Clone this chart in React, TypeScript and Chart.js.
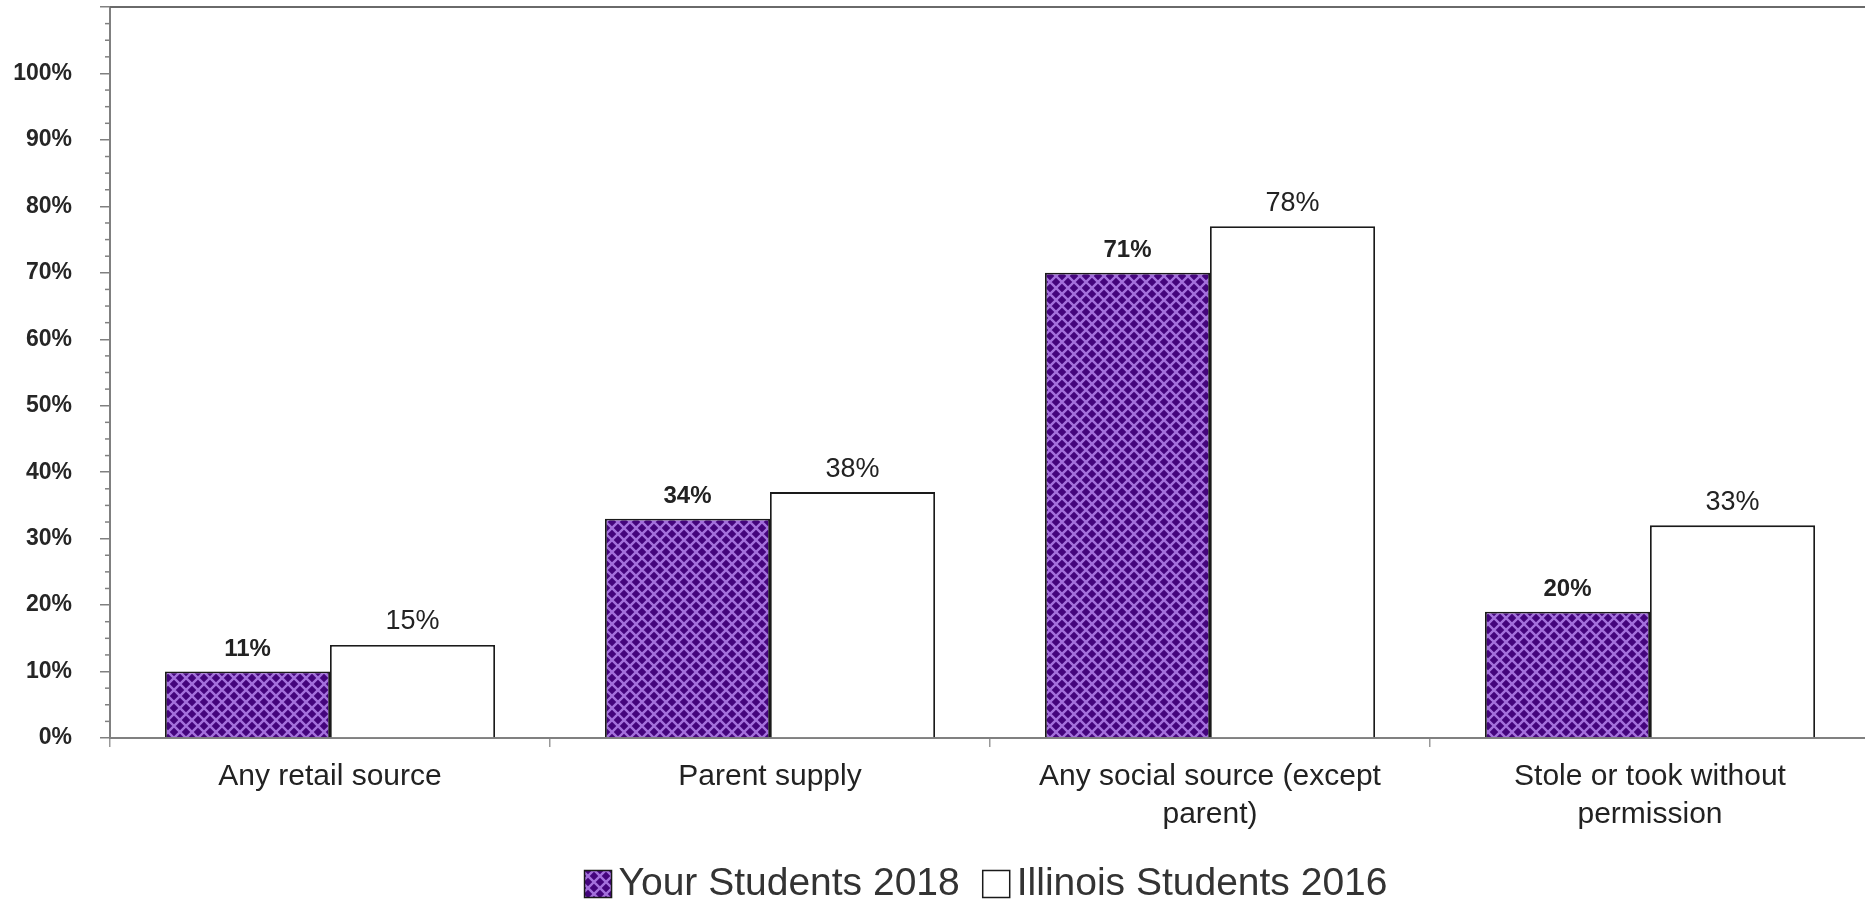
import React, { useEffect, useRef } from "react";
import { Chart, registerables } from "chart.js";

Chart.register(...registerables);

const FONT = "'Liberation Sans', Arial, Helvetica, sans-serif";

const categories: (string | string[])[] = [
  "Any retail source",
  "Parent supply",
  ["Any social source (except", "parent)"],
  ["Stole or took without", "permission"],
];
const seriesNames = ["Your Students 2018", "Illinois Students 2016"];
const yourStudents2018 = [10, 33, 70, 19];
const illinoisStudents2016 = [14, 37, 77, 32];
const yourLabels = ["11%", "34%", "71%", "20%"];
const illinoisLabels = ["15%", "38%", "78%", "33%"];
const yMin = 0;
const yMax = 110;
const yStep = 10;
const yLabelMax = 100;
const yMinorStep = 2.5;

function makePattern(): CanvasPattern | string {
  const s = 12;
  const c = document.createElement("canvas");
  c.width = s;
  c.height = s;
  const g = c.getContext("2d");
  if (!g) return "#4a0a86";
  g.fillStyle = "#44047c";
  g.fillRect(0, 0, s, s);
  g.strokeStyle = "#a470dc";
  g.lineWidth = 2.4;
  for (const dx of [-s, 0, s]) {
    g.beginPath();
    g.moveTo(dx, 0);
    g.lineTo(dx + s, s);
    g.moveTo(dx + s, 0);
    g.lineTo(dx, s);
    g.stroke();
  }
  const p = g.createPattern(c, "repeat");
  return p || "#4a0a86";
}

const axisExtras = {
  id: "axisExtras",
  afterDraw(chart: any) {
    const ctx = chart.ctx;
    const y = chart.scales.y;
    const area = chart.chartArea;
    ctx.save();
    ctx.strokeStyle = "#808080";
    ctx.lineWidth = 1.5;
    for (let v = yMin; v <= yMax; v += yMinorStep) {
      if (v % yStep === 0) continue;
      const py = y.getPixelForValue(v);
      ctx.beginPath();
      ctx.moveTo(area.left - 5, py);
      ctx.lineTo(area.left, py);
      ctx.stroke();
    }
    ctx.strokeStyle = "#6a6a6a";
    ctx.lineWidth = 2;
    ctx.beginPath();
    ctx.moveTo(area.left, area.top);
    ctx.lineTo(area.right, area.top);
    ctx.stroke();
    ctx.restore();
  },
};

const dataLabels = {
  id: "dataLabels",
  afterDatasetsDraw(chart: any) {
    const ctx = chart.ctx;
    const cfg = [
      { labels: yourLabels, font: `bold 24px ${FONT}`, offset: 22 },
      { labels: illinoisLabels, font: `27px ${FONT}`, offset: 23 },
    ];
    ctx.save();
    ctx.textAlign = "center";
    ctx.textBaseline = "middle";
    ctx.fillStyle = "#222222";
    chart.data.datasets.forEach((_ds: any, di: number) => {
      const meta = chart.getDatasetMeta(di);
      ctx.font = cfg[di].font;
      meta.data.forEach((el: any, i: number) => {
        ctx.fillText(cfg[di].labels[i], el.x, el.y - cfg[di].offset);
      });
    });
    ctx.restore();
  },
};

const customLegend = {
  id: "customLegend",
  afterDraw(chart: any) {
    const ctx = chart.ctx;
    const area = chart.chartArea;
    const box = 27;
    const textGap = 7;
    const itemGap = 23;
    ctx.save();
    ctx.font = `39px ${FONT}`;
    const ds = chart.data.datasets;
    const widths = ds.map((d: any) => box + textGap + ctx.measureText(d.label).width);
    const total = widths.reduce((a: number, b: number) => a + b, 0) + itemGap * (ds.length - 1);
    const cy = area.bottom + 146;
    let x = (area.left + area.right) / 2 - 4 - total / 2;
    ds.forEach((d: any, i: number) => {
      ctx.fillStyle = d.backgroundColor;
      ctx.fillRect(x, cy - box / 2, box, box);
      ctx.strokeStyle = "#1a1a1a";
      ctx.lineWidth = 1.5;
      ctx.strokeRect(x, cy - box / 2, box, box);
      ctx.fillStyle = "#333333";
      ctx.textAlign = "left";
      ctx.textBaseline = "middle";
      ctx.fillText(d.label, x + box + textGap, cy);
      x += widths[i] + itemGap;
    });
    ctx.restore();
  },
};

export default function App() {
  const ref = useRef<HTMLCanvasElement | null>(null);

  useEffect(() => {
    document.body.style.margin = "0";
    document.body.style.overflow = "hidden";
    const canvas = ref.current;
    if (!canvas) return;
    const pattern = makePattern();
    const chart = new Chart(canvas, {
      type: "bar",
      data: {
        labels: categories,
        datasets: [
          {
            label: seriesNames[0],
            data: yourStudents2018,
            backgroundColor: pattern as any,
            borderColor: "#1a1a1a",
            borderWidth: 1.8,
            categoryPercentage: 0.75,
            barPercentage: 1.0,
          },
          {
            label: seriesNames[1],
            data: illinoisStudents2016,
            backgroundColor: "#ffffff",
            borderColor: "#1a1a1a",
            borderWidth: 1.8,
            categoryPercentage: 0.75,
            barPercentage: 1.0,
          },
        ],
      },
      options: {
        responsive: false,
        animation: false,
        devicePixelRatio: 1,
        layout: { padding: { top: 7, left: 0, right: 10, bottom: 63.5 } },
        plugins: {
          tooltip: { enabled: false },
          legend: { display: false },
        },
        scales: {
          x: {
            grid: {
              offset: true,
              drawOnChartArea: false,
              drawTicks: true,
              tickLength: 9,
              color: "#999999",
              lineWidth: 1.5,
            },
            border: { display: true, color: "#808080", width: 2 },
            ticks: {
              font: { size: 30, family: FONT, lineHeight: 38 / 30 },
              color: "#222222",
              padding: 11,
              maxRotation: 0,
              autoSkip: false,
            },
            afterFit(s: any) {
              s.height = 100.5;
              s.paddingLeft = 0;
              s.paddingRight = 0;
            },
          },
          y: {
            min: yMin,
            max: yMax,
            grid: {
              drawOnChartArea: false,
              drawTicks: true,
              tickLength: 10,
              color: "#808080",
              lineWidth: 1.5,
            },
            border: { display: true, color: "#808080", width: 2 },
            ticks: {
              stepSize: yStep,
              font: { size: 23, family: FONT, weight: "bold" },
              color: "#262626",
              padding: 28,
              callback: (v: any) => (Number(v) <= yLabelMax ? `${v}%` : ""),
            },
            afterFit(s: any) {
              s.width = 110;
              s.paddingTop = 0;
              s.paddingBottom = 0;
            },
          },
        },
      },
      plugins: [axisExtras, dataLabels, customLegend],
    } as any);
    return () => chart.destroy();
  }, []);

  return (
    <div style={{ width: 1865, height: 902, overflow: "hidden", position: "relative", background: "#ffffff" }}>
      <canvas ref={ref} width={1880} height={902} style={{ display: "block" }} />
    </div>
  );
}
